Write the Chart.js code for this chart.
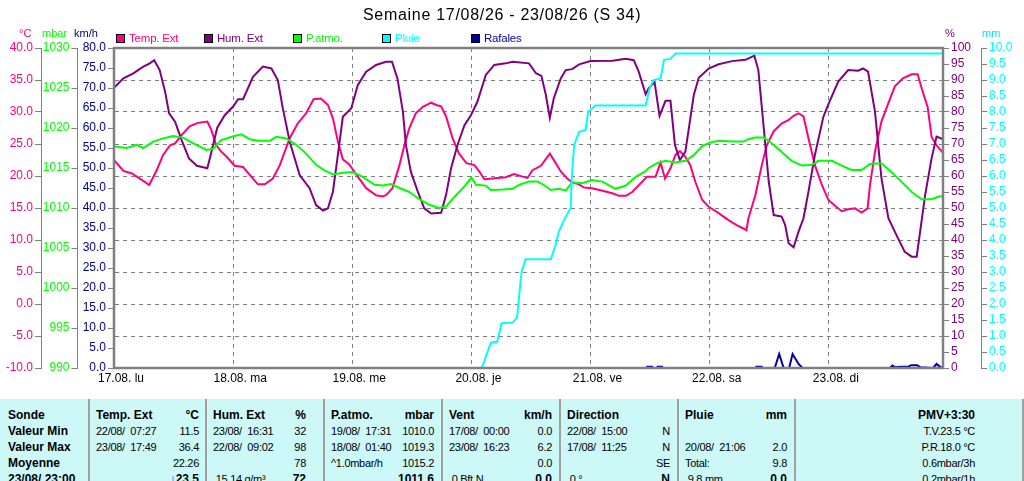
<!DOCTYPE html>
<html lang="fr">
<head>
<meta charset="UTF-8">
<title>Semaine 17/08/26 - 23/08/26 (S 34)</title>
<script src="https://cdn.jsdelivr.net/npm/chart.js"></script>
<style>
    body { margin: 0; width: 1024px; height: 481px; overflow: hidden; background: #fff;
           font-family: "Liberation Sans", Arial, sans-serif; }
    #wrap { position: relative; width: 1024px; height: 398px; }
    #wrap canvas { position: absolute; left: 0; top: 0; }
    .lbl { position: absolute; white-space: nowrap; }
    .title { top: 7px; left: 363px; font-size: 16px; line-height: 16px; letter-spacing: 0.7px; color: #000; }
    .unit { top: 28px; font-size: 11px; line-height: 11px; }
    .leg { top: 32px; font-size: 11.5px; line-height: 12px; letter-spacing: -0.2px; }
    .leg i { display: inline-block; width: 7px; height: 7px; border: 1px solid #000; margin-right: 4px; vertical-align: -1px; }

    #stats { position: absolute; top: 399px; left: 0; width: 1024px; height: 82px; background: #ccf8f8; }
    .col { position: absolute; top: 0; height: 82px; box-sizing: border-box; padding: 8px 7px 0 6px; }
    .col.sep { border-left: 2px solid #a0a0a0; }
    .row { display: flex; height: 16px; line-height: 16px; font-size: 11px; letter-spacing: -0.3px; white-space: pre; }
    .row .r { margin-left: auto; }
    .row b, .h { font-weight: bold; font-size: 12px; letter-spacing: 0; }
    .arrow { color: #0000ff; font-weight: normal; }
    .right .row { justify-content: flex-end; }
</style>
</head>
<body>
<div id="wrap">
    <canvas id="weekChart" width="1024" height="398"></canvas>
    <div class="lbl title">Semaine 17/08/26 - 23/08/26 (S 34)</div>

    <div class="lbl unit" style="left:19px;color:#ff0080">°C</div>
    <div class="lbl unit" style="left:42px;color:#00ff00">mbar</div>
    <div class="lbl unit" style="left:74px;color:#000080">km/h</div>
    <div class="lbl unit" style="left:945px;color:#800080">%</div>
    <div class="lbl unit" style="left:982px;color:#00e8ff">mm</div>

    <div class="lbl leg" style="left:116px;color:#ff0080"><i style="background:#ff0080"></i>Temp. Ext</div>
    <div class="lbl leg" style="left:204px;color:#800080"><i style="background:#800080"></i>Hum. Ext</div>
    <div class="lbl leg" style="left:293px;color:#00ff00"><i style="background:#00ff00"></i>P.atmo.</div>
    <div class="lbl leg" style="left:382px;color:#00ffff"><i style="background:#00ffff"></i>Pluie</div>
    <div class="lbl leg" style="left:471px;color:#0000a0"><i style="background:#0000a0"></i>Rafales</div>
</div>

<div id="stats">
    <div class="col" style="left:0;width:88px;padding-left:8px">
        <div class="row h">Sonde</div>
        <div class="row h">Valeur Min</div>
        <div class="row h">Valeur Max</div>
        <div class="row h">Moyenne</div>
        <div class="row h">23/08/ 23:00</div>
    </div>
    <div class="col sep" style="left:88px;width:117px;padding-right:6px">
        <div class="row"><b>Temp. Ext</b><b class="r">°C</b></div>
        <div class="row">22/08/  07:27<span class="r">11.5</span></div>
        <div class="row">23/08/  17:49<span class="r">36.4</span></div>
        <div class="row"><span class="r">22.26</span></div>
        <div class="row"><b class="r"><span class="arrow">↓</span>23.5</b></div>
    </div>
    <div class="col sep" style="left:205px;width:118px;padding-right:17px">
        <div class="row"><b>Hum. Ext</b><b class="r">%</b></div>
        <div class="row">23/08/  16:31<span class="r">32</span></div>
        <div class="row">22/08/  09:02<span class="r">98</span></div>
        <div class="row"><span class="r">78</span></div>
        <div class="row"> 15.14 g/m³<b class="r">72</b></div>
    </div>
    <div class="col sep" style="left:323px;width:118px;padding-right:7px">
        <div class="row"><b>P.atmo.</b><b class="r">mbar</b></div>
        <div class="row">19/08/  17:31<span class="r">1010.0</span></div>
        <div class="row">18/08/  01:40<span class="r">1019.3</span></div>
        <div class="row">^1.0mbar/h<span class="r">1015.2</span></div>
        <div class="row"><b class="r">1011.6</b></div>
    </div>
    <div class="col sep" style="left:441px;width:118px;padding-right:7px">
        <div class="row"><b>Vent</b><b class="r">km/h</b></div>
        <div class="row">17/08/  00:00<span class="r">0.0</span></div>
        <div class="row">23/08/  16:23<span class="r">6.2</span></div>
        <div class="row"><span class="r">0.0</span></div>
        <div class="row"> 0 Bft N<b class="r">0.0</b></div>
    </div>
    <div class="col sep" style="left:559px;width:118px;padding-right:7px">
        <div class="row"><b>Direction</b></div>
        <div class="row">22/08/  15:00<span class="r">N</span></div>
        <div class="row">17/08/  11:25<span class="r">N</span></div>
        <div class="row"><span class="r">SE</span></div>
        <div class="row"> 0 °<b class="r">N</b></div>
    </div>
    <div class="col sep" style="left:677px;width:117px;padding-right:7px">
        <div class="row"><b>Pluie</b><b class="r">mm</b></div>
        <div class="row"></div>
        <div class="row">20/08/  21:06<span class="r">2.0</span></div>
        <div class="row">Total:<span class="r">9.8</span></div>
        <div class="row"> 9.8 mm<b class="r">0.0</b></div>
    </div>
    <div class="col sep right" style="left:794px;width:230px;padding-right:47px;border-right:2px solid #a0a0a0">
        <div class="row"><b>PMV+3:30</b></div>
        <div class="row">T.V.23.5 °C</div>
        <div class="row">P.R.18.0 °C</div>
        <div class="row">0.6mbar/3h</div>
        <div class="row">0.2mbar/1h</div>
    </div>
</div>

<script>
    // x axis = hours since 17/08 00:00
    const dayTicks = [0, 24, 48, 72, 96, 120, 144];
    const dayLabels = ['17.08. lu', '18.08. ma', '19.08. me', '20.08. je', '21.08. ve', '22.08. sa', '23.08. di'];

    const tempHours = [0, 1.9, 3.6, 5.6, 7.1, 8.6, 9.9, 11.3, 12.3, 13.6, 15.3, 16.9, 18.8, 19.6, 20.6, 21.6, 22.7, 24.3, 26.0, 27.3,
        29.0, 30.4, 32.0, 33.4, 35.4, 37.0, 38.7, 40.2, 41.7, 43.1, 44.1, 45.1, 46.1, 47.4, 49.1, 50.8, 52.8, 54.1, 54.8, 56.1,
        57.5, 58.5, 59.5, 60.8, 62.2, 63.9, 64.9, 65.9, 66.9, 68.2, 69.5, 71.0, 72.6, 73.6, 74.6, 76.2, 78.9, 80.6, 82.3, 83.3,
        84.3, 86.0, 87.8, 89.0, 90.0, 91.3, 92.3, 93.7, 94.7, 96.3, 98.4, 100.4, 101.7, 103.1, 104.4, 106.4, 107.4, 109.1, 110.1, 111.0,
        112.1, 113.1, 114.0, 115.1, 116.1, 117.1, 118.5, 119.8, 121.8, 123.8, 125.5, 126.8, 127.4, 127.8, 129.2, 130.5, 131.5, 132.9, 134.5, 135.9,
        136.9, 137.9, 138.9, 139.9, 141.2, 142.6, 143.9, 145.3, 146.6, 147.9, 149.3, 150.6, 151.8, 152.3, 153.3, 154.6, 156.0, 157.3, 159.0, 160.7,
        161.9, 162.7, 163.9, 164.7, 165.7, 167];
    const tempValues = [22.5, 20.8, 20.4, 19.4, 18.6, 20.9, 23.3, 24.8, 25.1, 26.4, 27.8, 28.3, 28.5, 27.2, 24.8, 23.8, 23.0, 21.6, 21.4, 20.2,
        18.7, 18.7, 19.6, 21.7, 25.9, 28.2, 29.8, 32.0, 32.1, 31.1, 29.0, 25.4, 22.6, 21.8, 19.9, 18.1, 17.0, 16.8, 17.0, 18.1,
        21.7, 24.8, 27.5, 29.8, 30.8, 31.45, 31.1, 30.9, 29.3, 25.9, 23.5, 22.0, 21.7, 20.7, 19.5, 19.6, 19.8, 20.3, 19.9, 19.7,
        20.9, 21.6, 23.5, 22.0, 20.7, 19.6, 19.0, 18.7, 18.2, 18.1, 17.7, 17.3, 16.9, 16.9, 17.5, 19.1, 19.9, 19.9, 22.1, 19.6,
        21.2, 23.3, 23.9, 23.0, 21.7, 19.1, 16.25, 15.2, 14.2, 13.1, 12.3, 11.8, 11.5, 13.4, 17.0, 21.7, 24.8, 27.0, 28.2, 28.75,
        29.4, 29.8, 29.3, 25.9, 21.7, 18.6, 16.25, 15.3, 14.5, 14.8, 14.95, 14.3, 14.95, 18.6, 23.8, 28.5, 31.4, 34.0, 35.3, 35.9,
        35.9, 33.7, 30.8, 26.1, 24.8, 23.6];

    const humHours = [0, 1.9, 3.9, 5.9, 7.2, 8.1, 9.2, 10.3, 11.1, 12.3, 13.6, 15.1, 16.7, 18.8, 19.3, 20.8, 22.3, 24.0, 25.0, 26.0,
        28.0, 30.0, 31.7, 33.0, 34.0, 35.4, 37.4, 39.4, 40.7, 42.1, 43.1, 44.1, 45.1, 46.1, 47.8, 49.1, 50.8, 52.8, 54.8, 56.0,
        57.1, 58.2, 58.8, 59.8, 61.2, 62.5, 63.9, 65.9, 66.9, 67.9, 69.2, 70.6, 71.9, 73.2, 74.9, 76.6, 78.9, 80.3, 83.6, 85.0,
        86.1, 87.0, 87.8, 88.6, 90.0, 91.0, 92.3, 93.7, 96.0, 100.4, 103.1, 104.7, 105.7, 107.1, 107.7, 108.9, 109.9, 111.1, 112.1, 113.0,
        114.0, 115.1, 116.8, 117.8, 119.8, 121.8, 124.5, 127.2, 129.0, 129.8, 130.9, 131.9, 132.9, 134.5, 135.2, 135.9, 136.9, 137.9, 138.9, 139.9,
        141.2, 142.9, 143.9, 145.9, 147.9, 149.9, 150.9, 151.9, 153.3, 154.6, 156.0, 157.6, 159.3, 160.7, 161.7, 163.4, 164.7, 165.7, 167];
    const humValues = [87.6, 90.5, 92.1, 94.2, 95.2, 96.2, 93.1, 86.3, 79.6, 77, 71.3, 65.5, 63.2, 62.4, 65.5, 75.1, 79, 81.7, 84, 84,
        91, 94.2, 93.6, 90, 81.2, 70.7, 60.3, 56.2, 50.9, 49.2, 49.9, 55.1, 66.6, 78.5, 81.2, 88.4, 92.6, 94.7, 95.7, 95.7,
        90.5, 80.1, 69.7, 61.3, 55.1, 49.9, 48.3, 48.5, 54.1, 62.4, 69.7, 75.9, 79, 83.2, 91.6, 94.7, 95.2, 95.7, 95.2, 92.1,
        91.3, 85.3, 78.2, 84.3, 90.5, 93.1, 93.4, 94.9, 95.9, 96, 96.6, 96.2, 92.6, 85.5, 87.4, 89.3, 78.8, 83.5, 83.5, 69.7,
        65, 67.6, 85.3, 90.7, 93.6, 94.9, 95.9, 96.3, 97.6, 93.1, 74.9, 58.2, 47.8, 47.3, 44.7, 39, 37.7, 42.6, 46.8, 55.1,
        66.6, 78.5, 82.4, 89.5, 93.1, 92.9, 93.6, 92.6, 80.1, 59.3, 46.8, 41.6, 36.3, 34.8, 34.8, 54, 65.5, 72.3, 71.5];

    const pressHours = [0, 2.6, 4.6, 5.9, 7.9, 9.9, 11.9, 13.9, 15.9, 18.6, 20.0, 21.6, 23.7, 25.7, 27.3, 29.0, 31.4, 32.7, 34.7, 36.7,
        38.7, 40.7, 42.4, 44.1, 46.1, 48.1, 50.1, 52.5, 54.1, 55.8, 57.5, 59.5, 61.5, 63.5, 65.5, 66.9, 68.9, 70.6, 72.0, 72.9,
        74.9, 75.9, 78.3, 80.3, 81.6, 83.6, 85.3, 86.3, 88.0, 89.6, 91.0, 92.3, 94.3, 96.3, 98.4, 101.0, 103.1, 105.1, 107.1, 107.7,
        109.4, 111.1, 113.1, 115.1, 116.8, 118.5, 120.1, 121.8, 124.5, 126.8, 127.8, 129.2, 130.9, 132.5, 134.5, 136.5, 138.6, 140.6, 141.9, 144.6,
        146.6, 148.6, 150.6, 152.3, 154.6, 156.6, 158.6, 160.7, 162.7, 164.7, 166.0, 167];
    const pressValues = [1017.7, 1017.5, 1017.9, 1017.5, 1018.3, 1018.7, 1019.0, 1018.8, 1018.1, 1017.25, 1017.4, 1018.5, 1018.9, 1019.2, 1018.6, 1018.4, 1018.4, 1018.9, 1018.7, 1017.9,
        1016.8, 1015.4, 1014.7, 1014.2, 1014.4, 1014.5, 1013.9, 1012.9, 1012.8, 1013.0, 1012.5, 1012.0, 1011.1, 1010.4, 1010.0, 1010.2, 1011.6, 1012.7, 1013.8, 1012.9,
        1012.8, 1012.25, 1012.3, 1012.4, 1012.9, 1013.3, 1013.3, 1013.0, 1012.25, 1012.4, 1012.2, 1013.2, 1013.1, 1013.5, 1013.3, 1012.4, 1012.8, 1013.9, 1014.6, 1015.0,
        1015.6, 1015.9, 1015.7, 1015.9, 1016.6, 1017.75, 1018.2, 1018.4, 1018.3, 1018.3, 1018.6, 1018.8, 1018.8, 1018.1, 1017.0, 1015.9, 1015.3, 1015.4, 1015.9, 1015.9,
        1015.3, 1014.75, 1014.75, 1015.5, 1015.6, 1014.5, 1013.3, 1012.0, 1011.1, 1011.1, 1011.4, 1011.5];

    // cumulative rain, mm
    const rainHours = [0, 74.1, 75.9, 77.2, 78.1, 80.3, 81.2, 81.6, 82.1, 82.9, 88.0, 89.0, 89.6, 90.9, 92.0, 92.2, 92.7, 93.7, 95.0, 95.5,
        97.0, 107.1, 107.9, 108.7, 110.1, 110.8, 112.1, 113.1, 167];
    const rainValues = [0, 0, 0.79, 0.82, 1.4, 1.42, 1.58, 2.23, 3.0, 3.4, 3.4, 3.87, 4.26, 4.7, 5.0, 5.93, 6.97, 7.38, 7.44, 8.0,
        8.2, 8.2, 8.74, 9.0, 9.05, 9.63, 9.66, 9.83, 9.83];

    const gustHours = [0, 107.3, 107.4, 108.4, 108.5, 109.4, 109.5, 110.4, 110.5, 129.3, 129.4, 130.5, 130.6, 133.1, 134.0, 134.9, 136.0, 136.7, 137.9, 138.7,
        156.3, 156.8, 157.3, 158.5, 160.1, 160.6, 161.8, 162.4, 165.0, 165.7, 166.4, 167];
    const gustValues = [0, 0, 0.3, 0.3, 0, 0, 0.3, 0.3, 0, 0, 0.3, 0.3, 0, 0, 3.5, 0, 0, 3.5, 1.0, 0,
        0, 0.6, 0.2, 0.3, 0.4, 0.7, 0.7, 0.2, 0, 1.0, 0.3, 0];

    const GREY = '#808080';
    const tickFont = { family: '"Liberation Sans", Arial, sans-serif', size: 12 };

    function toPoints(hours, values) {
        return hours.map((h, i) => ({ x: h, y: values[i] }));
    }

    function fixWidth(w) {
        return scale => { scale.width = w; };
    }

    // y axis with solid tick marks, no lines on the chart area
    function sideAxis(position, weight, min, max, step, color, width, fmt) {
        return {
            position, weight, min, max,
            afterFit: fixWidth(width),
            ticks: { stepSize: step, color, font: tickFont, padding: 2, autoSkip: false, callback: fmt },
            grid: { drawOnChartArea: false, tickLength: 6, tickColor: GREY },
            border: { color: GREY, width: 1 }
        };
    }

    // grey frame round the plot
    const frame = {
        id: 'frame',
        afterDatasetsDraw(chart) {
            const { ctx, chartArea: a } = chart;
            ctx.save();
            ctx.strokeStyle = GREY;
            ctx.lineWidth = 2.5;
            ctx.strokeRect(a.left, a.top, a.right - a.left, a.bottom - a.top);
            ctx.restore();
        }
    };

    const yTemp = sideAxis('left', 3, -10, 40, 5, '#ff0080', 41, v => v.toFixed(1));
    yTemp.grid = { drawOnChartArea: true, color: GREY, tickLength: 6, tickColor: GREY };
    yTemp.border = { color: GREY, width: 1, dash: [4, 4] };

    new Chart(document.getElementById('weekChart'), {
        type: 'line',
        data: {
            datasets: [
                { label: 'Rafales', data: toPoints(gustHours, gustValues), yAxisID: 'yWind', borderColor: '#0000a0', order: 1 },
                { label: 'Pluie', data: toPoints(rainHours, rainValues), yAxisID: 'yRain', borderColor: '#00ffff', order: 2 },
                { label: 'P.atmo.', data: toPoints(pressHours, pressValues), yAxisID: 'yPress', borderColor: '#00ff00', order: 3 },
                { label: 'Hum. Ext', data: toPoints(humHours, humValues), yAxisID: 'yHum', borderColor: '#800080', order: 4 },
                { label: 'Temp. Ext', data: toPoints(tempHours, tempValues), yAxisID: 'yTemp', borderColor: '#ff0080', order: 5 }
            ]
        },
        options: {
            responsive: false,
            animation: false,
            layout: { padding: { top: 48, left: 0, right: 0, bottom: 0 } },
            elements: {
                point: { radius: 0 },
                line: { borderWidth: 2, tension: 0 }
            },
            plugins: {
                legend: { display: false },
                title: { display: false },
                tooltip: { enabled: false }
            },
            scales: {
                x: {
                    type: 'linear',
                    min: 0,
                    max: 167,
                    afterBuildTicks: scale => { scale.ticks = dayTicks.map(v => ({ value: v })); },
                    afterFit: scale => { scale.height = 30; },
                    ticks: {
                        color: '#000',
                        font: tickFont,
                        padding: 3,
                        labelOffset: 7,
                        maxRotation: 0,
                        autoSkip: false,
                        callback: v => dayLabels[dayTicks.indexOf(v)]
                    },
                    grid: { color: GREY, drawTicks: false },
                    border: { color: GREY, width: 2, dash: [4, 4] }
                },
                yTemp,
                yPress: sideAxis('left', 2, 990, 1030, 5, '#00ff00', 36.5, v => String(v)),
                yWind: sideAxis('left', 1, 0, 80, 5, '#000080', 36.5, v => v.toFixed(1)),
                yHum: sideAxis('right', 1, 0, 100, 5, '#800080', 38, v => String(v)),
                yRain: sideAxis('right', 2, 0, 10, 0.5, '#00ffff', 43, v => v.toFixed(1))
            }
        },
        plugins: [frame]
    });
</script>
</body>
</html>
